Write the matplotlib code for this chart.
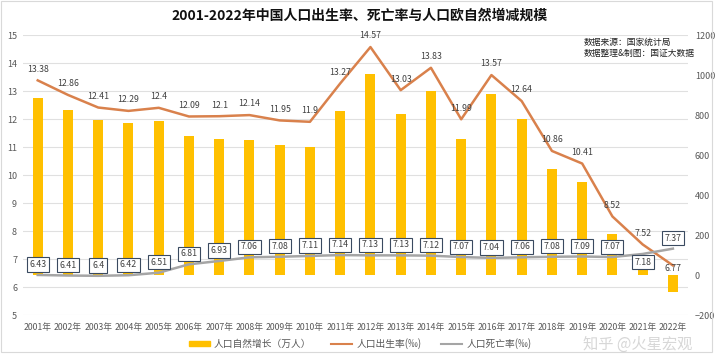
import matplotlib.pyplot as plt
import matplotlib.patches as mpatches
import matplotlib.lines as mlines
import numpy as np

plt.rcParams['font.family'] = ['Noto Sans CJK SC', 'DejaVu Sans']

years = [str(y) + '年' for y in range(2001, 2023)]
natural_growth = [884, 826, 774, 761, 768, 693, 682, 673, 652, 642, 822,
                  1006, 806, 922, 680, 906, 780, 530, 467, 205, 48, -85]
birth_rate = [13.38, 12.86, 12.41, 12.29, 12.4, 12.09, 12.1, 12.14, 11.95, 11.9, 13.27,
              14.57, 13.03, 13.83, 11.99, 13.57, 12.64, 10.86, 10.41, 8.52, 7.52, 6.77]
death_rate = [6.43, 6.41, 6.4, 6.42, 6.51, 6.81, 6.93, 7.06, 7.08, 7.11, 7.14,
              7.13, 7.13, 7.12, 7.07, 7.04, 7.06, 7.08, 7.09, 7.07, 7.18, 7.37]

GOLD = '#FFC000'
ORANGE = '#D9814C'
GRAY = '#A5A5A5'
TXT = '#595959'

fig = plt.figure(figsize=(7.2, 3.58), dpi=100)
ax = fig.add_axes([0.0314, 0.1201, 0.9242, 0.7821])
ax2 = ax.twinx()
ax3 = ax.twinx()
x = np.arange(len(years))

# grid + left ticks on bottom axes
ax.set_ylim(5, 15)
ax.set_yticks(range(5, 16))
ax.grid(axis='y', color='#E0E0E0', lw=0.8)
ax.set_axisbelow(True)
ax.set_xlim(-0.5, len(years) - 0.5)
ax.set_xticks(x)
ax.set_xticklabels(years, fontsize=6.3, color=TXT)
ax.tick_params(length=0, pad=6)
ax.tick_params(axis='y', labelsize=6.5, labelcolor=TXT, pad=4)

# bars on right axis
ax2.bar(x, natural_growth, width=0.33, color=GOLD, zorder=2)
ax2.set_ylim(-200, 1200)
ax2.set_yticks(range(-200, 1201, 200))
ax2.tick_params(length=0, labelsize=6.5, labelcolor=TXT, pad=5)

# lines on top
ax3.set_ylim(5, 15)
ax3.set_yticks([])
ax3.plot(x, birth_rate, color=ORANGE, lw=1.8, zorder=3)
ax3.plot(x, death_rate, color=GRAY, lw=1.8, zorder=3)

for a in (ax, ax2, ax3):
    for s in a.spines.values():
        s.set_visible(False)

for i, v in enumerate(birth_rate):
    dy = -2 if i == len(birth_rate) - 1 else 8
    ax3.annotate(f'{v:g}', (x[i], v), xytext=(0, dy), textcoords='offset points',
                 ha='center', va='center', fontsize=6.3, color='#404040', zorder=5)

for i, v in enumerate(death_rate):
    dy = -6 if i == len(death_rate) - 2 else 7.5
    ax3.annotate(f'{v:g}', (x[i], v), xytext=(0, dy), textcoords='offset points',
                 ha='center', va='center', fontsize=6.3, color='#404040', zorder=5,
                 bbox=dict(boxstyle='square,pad=0.3', fc='white', ec='#3A4A60', lw=0.8))

fig.text(0.5, 0.955, '2001-2022年中国人口出生率、死亡率与人口欧自然增减规模',
         ha='center', va='center', fontsize=10, fontweight='bold', color='#111111')
fig.text(0.81, 0.866, '数据来源：国家统计局\n数据整理&制图：国证大数据',
         ha='left', va='center', fontsize=6.3, color='#222222', linespacing=1.3)

handles = [mpatches.Patch(color=GOLD),
           mlines.Line2D([], [], color=ORANGE, lw=1.5),
           mlines.Line2D([], [], color=GRAY, lw=1.5)]
labels = ['人口自然增长（万人）', '人口出生率(‰)', '人口死亡率(‰)']
fig.legend(handles, labels, loc='center', bbox_to_anchor=(0.5, 0.04), ncol=3,
           frameon=False, fontsize=7, labelcolor=TXT, handlelength=2.2,
           handleheight=0.5, columnspacing=2, handletextpad=0.4)

# watermark, kept just below the tick-label row
fig.text(0.885, 0.038, '知乎 @火星宏观', ha='center', va='center', fontsize=11,
         color='#D0D0D0', alpha=0.85)

fig.patches.append(mpatches.Rectangle((0.002, 0.017), 0.987, 0.98, transform=fig.transFigure,
                                      fill=False, ec='#D9D9D9', lw=0.8))

fig.savefig('out.png', dpi=100)
